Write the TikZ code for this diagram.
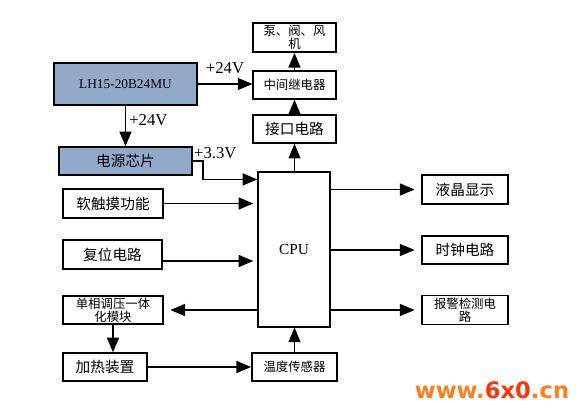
\documentclass[tikz,border=0pt]{standalone}
\usepackage{fontspec}
\setmainfont{Liberation Serif}
\newfontfamily\cjk{Noto Sans CJK SC}
\newfontfamily\markfont{DejaVu Sans}
\usepackage{xcolor}
\usetikzlibrary{arrows.meta,positioning,calc}
\definecolor{boxblue}{RGB}{146,169,202}
\definecolor{markorange}{RGB}{255,128,30}
\definecolor{markred}{RGB}{255,55,10}

\begin{document}
\begin{tikzpicture}[
    x=0.75pt, y=-0.75pt,
    box/.style={rectangle, draw, line width=1.1pt, inner sep=1pt, align=center,
        font=\cjk\fontsize{11}{12}\selectfont},
    smallbox/.style={box, font=\cjk\fontsize{9.3}{10}\selectfont},
    powerbox/.style={box, fill=boxblue},
    arrow/.style={-{Triangle[length=11pt, width=9pt]}, line width=1.1pt},
    volt/.style={font=\fontsize{12.5}{13}\selectfont}
]
    \useasboundingbox (0,0) rectangle (586,414);

    % power side
    \node[powerbox, minimum width=107pt, minimum height=31.5pt, font=\fontsize{10}{11}\selectfont] (lh) at (125.5,84) {LH15-20B24MU};
    \node[powerbox, minimum width=100pt, minimum height=21pt] (psu) at (125.5,161) {电源芯片};

    % output chain
    \node[smallbox, minimum width=62pt, minimum height=22pt] (pump) at (294.5,37.5) {泵、阀、风\\机};
    \node[smallbox, minimum width=62pt, minimum height=21pt] (relay) at (294.5,85) {中间继电器};
    \node[box, minimum width=62pt, minimum height=21pt] (iface) at (294.5,129) {接口电路};

    % cpu
    \node[box, minimum width=54pt, minimum height=116pt, font=\fontsize{11.5}{12}\selectfont] (cpu) at (294,249.5) {CPU};

    % inputs
    \node[box, minimum width=75pt, minimum height=22pt] (touch) at (113,203.5) {软触摸功能};
    \node[box, minimum width=74pt, minimum height=22pt] (reset) at (112.5,254.5) {复位电路};
    \node[smallbox, minimum width=75pt, minimum height=21pt] (regul) at (113,310) {单相调压一体\\化模块};
    \node[box, minimum width=63pt, minimum height=21pt] (heat) at (105,367) {加热装置};
    \node[smallbox, minimum width=64pt, minimum height=21pt] (temp) at (294.5,367) {温度传感器};

    % outputs
    \node[box, minimum width=64.5pt, minimum height=22pt] (lcd) at (465,189.5) {液晶显示};
    \node[box, minimum width=64.5pt, minimum height=21pt] (clock) at (465,250) {时钟电路};
    \node[smallbox, minimum width=64.5pt, minimum height=22pt] (alarm) at (465,310) {报警检测电\\路};

    % connectors
    \draw[arrow] (lh.east) -- (lh.east -| relay.west) node[volt, pos=0.5, above=4pt] {+24V};
    \draw[arrow] (lh.south) -- (psu.north) node[volt, pos=0.35, right=-1pt] {+24V};
    \draw[arrow] (psu.east) -- ++(10,0) |- ($(cpu.north west)+(0,8)$);
    \node[volt, anchor=west, inner sep=0pt] (v33) at ($(psu.north east)+(1,7)$) {+3.3V};
    \draw[arrow] (relay.north) -- (pump.south);
    \draw[arrow] (iface.north) -- (relay.south);
    \draw[arrow] (cpu.north -| iface) -- (iface.south);
    \draw[arrow, shorten >=3pt] (touch.east) -- (touch.east -| cpu.west);
    \draw[arrow, shorten >=3pt] ($(reset.east)+(0,6.5)$) -- ($(reset.east -| cpu.west)+(0,6.5)$);
    \draw[arrow, shorten >=5pt] (regul.east -| cpu.west) -- (regul.east);
    \draw[arrow] (regul.south) -- (regul.south |- heat.north);
    \draw[arrow] (heat.east) -- (temp.west);
    \draw[arrow] (temp.north) -- (temp.north |- cpu.south);
    \draw[arrow, shorten >=5pt] (lcd.west -| cpu.east) -- (lcd.west);
    \draw[arrow, shorten >=5pt] (clock.west -| cpu.east) -- (clock.west);
    \draw[arrow, shorten >=5pt] (alarm.west -| cpu.east) -- (alarm.west);

    % watermark
    \node[font=\markfont\bfseries\fontsize{17}{18}\selectfont, inner sep=0pt] (mark) at (492,390)
        {\textcolor{markorange}{www.}\textcolor{markred}{6x0}\textcolor{markorange}{.cn}};
\end{tikzpicture}
\end{document}
